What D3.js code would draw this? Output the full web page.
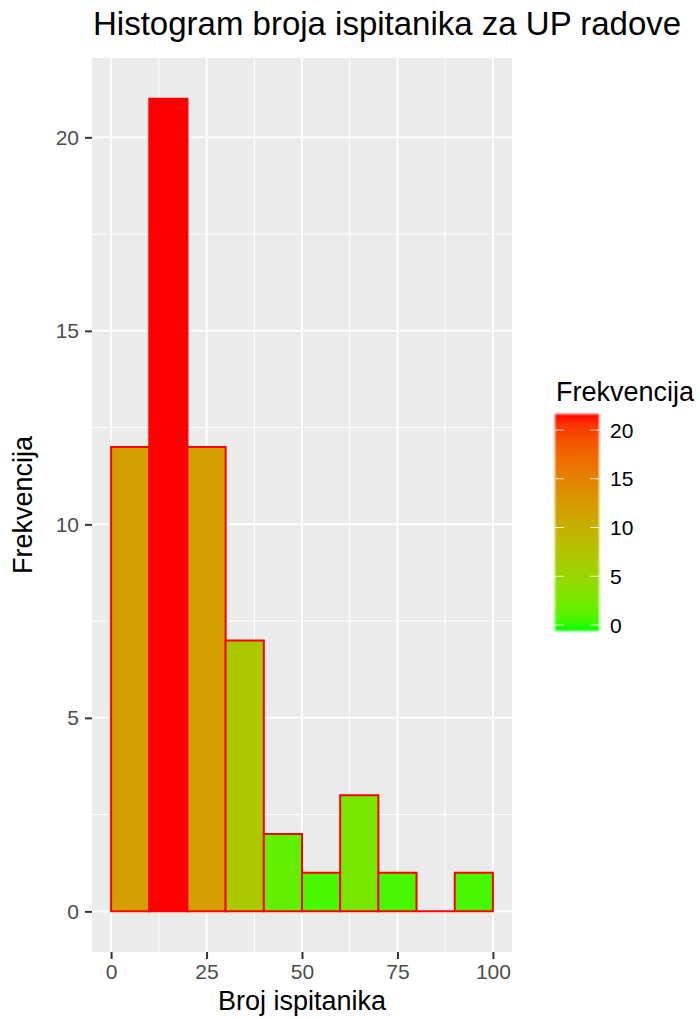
<!DOCTYPE html>
<html><head><meta charset="utf-8">
<script src="https://cdn.jsdelivr.net/npm/d3@7"></script>
<style>body{margin:0;background:#fff}svg{display:block;font-family:"Liberation Sans",Arial,sans-serif}</style>
</head><body><svg id="c" width="700" height="1019"></svg>
<script>
const binStarts = [0,10,20,30,40,50,60,70,80,90];
const binWidth = 10;
const counts = [12,21,12,7,2,1,3,1,0,1];
const xTicks = [0,25,50,75,100];
const xMinor = [12.5,37.5,62.5,87.5];
const yTicks = [0,5,10,15,20];
const yMinor = [2.5,7.5,12.5,17.5];
const legendTicks = [0,5,10,15,20];

const svg = d3.select("#c");
const L=92,R=512,T=58,B=952;
const x = d3.scaleLinear().domain([-5,105]).range([L,R]);
const y = d3.scaleLinear().domain([-1.05,22.05]).range([B,T]);
const maxC = d3.max(counts);
const col = v => d3.interpolateLab("#00FF00","#FF0000")(v/maxC);

svg.append("rect").attr("x",L).attr("y",T).attr("width",R-L).attr("height",B-T).attr("fill","#EBEBEB");
const g = svg.append("g");
xMinor.forEach(v=>g.append("line").attr("x1",x(v)).attr("x2",x(v)).attr("y1",T).attr("y2",B).attr("stroke","#fff").attr("stroke-width",1));
yMinor.forEach(v=>g.append("line").attr("y1",y(v)).attr("y2",y(v)).attr("x1",L).attr("x2",R).attr("stroke","#fff").attr("stroke-width",1));
xTicks.forEach(v=>g.append("line").attr("x1",x(v)).attr("x2",x(v)).attr("y1",T).attr("y2",B).attr("stroke","#fff").attr("stroke-width",2));
yTicks.forEach(v=>g.append("line").attr("y1",y(v)).attr("y2",y(v)).attr("x1",L).attr("x2",R).attr("stroke","#fff").attr("stroke-width",2));

svg.append("g").selectAll("path").data(counts).join("path")
  .attr("d",(d,i)=>{const x0=x(binStarts[i]),x1=x(binStarts[i]+binWidth),y0=y(0),y1=y(d);
    return `M${x0},${y0}L${x0},${y1}L${x1},${y1}L${x1},${y0}Z`;})
  .attr("fill",d=>col(d)).attr("stroke","#FF0000").attr("stroke-width",2);

// axes
const xa = svg.append("g").attr("transform",`translate(0,${B})`)
  .call(d3.axisBottom(x).tickValues(xTicks).tickSize(7).tickPadding(5));
const ya = svg.append("g").attr("transform",`translate(${L},0)`)
  .call(d3.axisLeft(y).tickValues(yTicks).tickSize(7).tickPadding(6));
[xa,ya].forEach(a=>{a.select(".domain").remove();
  a.attr("font-size",null).attr("font-family",null);
  a.selectAll(".tick line").attr("stroke","#333").attr("stroke-width",2);
  a.selectAll(".tick text").attr("fill","#4D4D4D").style("font-size","21px");});

svg.append("text").attr("x",(L+R)/2).attr("y",1010).attr("text-anchor","middle").style("font-size","27px").text("Broj ispitanika");
svg.append("text").attr("transform",`translate(32,${(T+B)/2}) rotate(-90)`).attr("text-anchor","middle").style("font-size","27px").text("Frekvencija");
svg.append("text").attr("x",L+1).attr("y",35).attr("text-anchor","start").style("font-size","33px").text("Histogram broja ispitanika za UP radove");

// legend
const ly = d3.scaleLinear().domain([0,20]).range([625,430]);
const defs = svg.append("defs");
const grad = defs.append("linearGradient").attr("id","lg").attr("x1",0).attr("x2",0).attr("y1",1).attr("y2",0);
d3.range(0,1.0001,0.05).forEach(t=>grad.append("stop").attr("offset",t).attr("stop-color",col(t*maxC)));
const blur = defs.append("filter").attr("id","bl").attr("x","-10%").attr("y","-5%").attr("width","120%").attr("height","110%");
blur.append("feGaussianBlur").attr("stdDeviation",1.2);
const lx=555, lw=44;
svg.append("rect").attr("x",lx).attr("y",414).attr("width",lw).attr("height",631-414).attr("fill","url(#lg)").attr("filter","url(#bl)");
legendTicks.forEach(v=>{
  svg.append("line").attr("x1",lx).attr("x2",lx+9).attr("y1",ly(v)).attr("y2",ly(v)).attr("stroke","#fff").attr("stroke-width",1).attr("opacity",0.8);
  svg.append("line").attr("x1",lx+lw-9).attr("x2",lx+lw).attr("y1",ly(v)).attr("y2",ly(v)).attr("stroke","#fff").attr("stroke-width",1).attr("opacity",0.8);
  svg.append("text").attr("x",610).attr("y",ly(v)).attr("dy","0.36em").style("font-size","21px").attr("fill","#000").text(v);
});
svg.append("text").attr("x",556).attr("y",401).style("font-size","27px").text("Frekvencija");
</script></body></html>
